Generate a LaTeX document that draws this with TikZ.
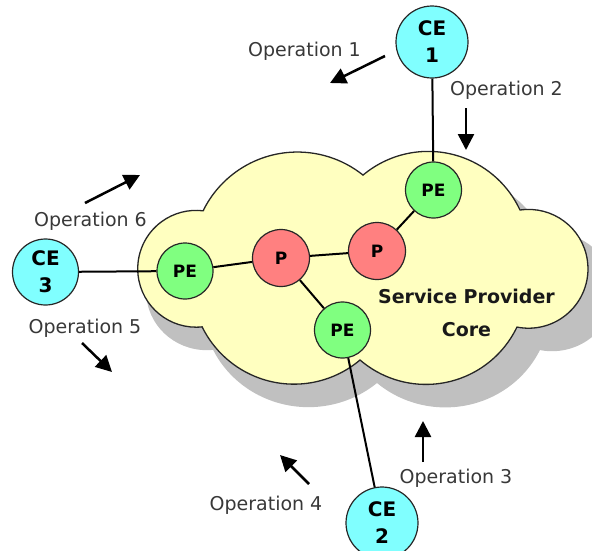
\documentclass[tikz,border=0pt]{standalone}
\usepackage{fontspec}
\setmainfont{DejaVu Sans}
\usetikzlibrary{arrows.meta}
\definecolor{cefill}{HTML}{80FFFF}
\definecolor{pefill}{HTML}{80FF80}
\definecolor{pfill}{HTML}{FF8080}
\definecolor{cloudfill}{HTML}{FFFFC0}
\definecolor{shadowgray}{HTML}{C0C0C0}
\definecolor{optext}{HTML}{383838}
\def\cloudshape{(203,211)
  arc[start angle=-154, end angle=-51.3, radius=105]
  arc[start angle=-130, end angle=-24.9, radius=101.3]
  arc[start angle=-98.3, end angle=101.3, radius=59.4]
  arc[start angle=25.6, end angle=130.7, radius=101]
  arc[start angle=49.8, end angle=153.9, radius=102.3]
  arc[start angle=84.1, end angle=276.9, radius=58.4] -- cycle}
\begin{document}
\begin{tikzpicture}[x=1pt,y=-1pt,
  router/.style={circle, draw=black!85, line width=1.2pt, inner sep=0pt, align=center},
  cenode/.style={router, fill=cefill, minimum size=72pt, font=\bfseries\fontsize{20}{27}\selectfont},
  penode/.style={router, fill=pefill, minimum size=56pt, font=\bfseries\fontsize{17}{20}\selectfont},
  pnode/.style={router, fill=pfill, minimum size=57pt, font=\bfseries\fontsize{17}{20}\selectfont},
  link/.style={line width=2pt, black},
  oparrow/.style={line width=2.5pt, black, -{Triangle[length=16pt,width=16pt]}},
  optext/.style={anchor=base, text=optext, font=\fontsize{19}{22}\selectfont, inner sep=0pt},
  coretext/.style={anchor=base, text=black!90, font=\bfseries\fontsize{19}{22}\selectfont, inner sep=0pt}
]
\useasboundingbox (0,0) rectangle (592,550);
% cloud shadow and cloud
\begin{scope}[shift={(3.3,23)}, xscale=1.038]
  \fill[shadowgray] \cloudshape;
\end{scope}
\draw[fill=cloudfill, line width=1.3pt, draw=black!85] \cloudshape;

% routers
\node[cenode] (ce1) at (432,42) {CE\\1};
\node[cenode] (ce2) at (382,523) {CE\\2};
\node[cenode, minimum size=66pt] (ce3) at (45.5,272) {CE\\3};
\node[penode] (pe1) at (433.5,190) {PE};
\node[penode] (pe2) at (185,271) {PE};
\node[penode] (pe3) at (342.5,330) {PE};
\node[pnode] (p1) at (281,258) {P};
\node[pnode] (p2) at (377,251) {P};

% links
\draw[link] (ce1) -- (pe1);
\draw[link] (ce3) -- (pe2);
\draw[link] (pe2) -- (p1);
\draw[link] (p1) -- (p2);
\draw[link] (p2) -- (pe1);
\draw[link] (p1) -- (pe3);
\draw[link] (pe3) -- (ce2);

% core label
\node[coretext] (sp1) at (466.5,303) {Service Provider};
\node[coretext] (sp2) at (466.5,336) {Core};

% operation labels
\node[optext] (l1) at (304.5,56) {Operation 1};
\node[optext] (l2) at (506.5,95) {Operation 2};
\node[optext] (l3) at (456,483) {Operation 3};
\node[optext] (l4) at (266,510) {Operation 4};
\node[optext] (l5) at (85,333) {Operation 5};
\node[optext] (l6) at (90.5,226) {Operation 6};

% operation arrows
\coordinate (a1s) at (385,56);  \coordinate (a1e) at (330,83);
\coordinate (a2s) at (466,108); \coordinate (a2e) at (466,150);
\coordinate (a3s) at (423,462); \coordinate (a3e) at (423,421);
\coordinate (a4s) at (309,484); \coordinate (a4e) at (280,455);
\coordinate (a5s) at (82,343);  \coordinate (a5e) at (112,372);
\coordinate (a6s) at (85,203);  \coordinate (a6e) at (140,175);
\draw[oparrow] (a1s) -- (a1e);
\draw[oparrow] (a2s) -- (a2e);
\draw[oparrow] (a3s) -- (a3e);
\draw[oparrow] (a4s) -- (a4e);
\draw[oparrow] (a5s) -- (a5e);
\draw[oparrow] (a6s) -- (a6e);
\end{tikzpicture}
\end{document}
